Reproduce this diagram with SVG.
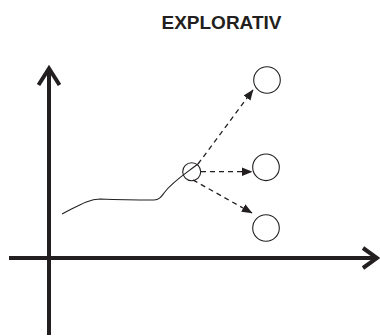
<svg xmlns="http://www.w3.org/2000/svg" width="380" height="336" viewBox="0 0 380 336">
<style>
.title{font-family:"Liberation Sans",Arial,sans-serif;font-weight:bold;font-size:19px;fill:#231f20}
.axis{stroke:#231f20;stroke-width:4;fill:none}
.circ{stroke:#231f20;stroke-width:1.1;fill:#fff}
.dash{stroke:#231f20;stroke-width:1.3;fill:none;stroke-dasharray:5,4}
.curve{stroke:#231f20;stroke-width:1.1;fill:none}
</style>
<defs>
<marker id="ah" markerUnits="userSpaceOnUse" markerWidth="11" markerHeight="11" viewBox="0 0 11 11" refX="10" refY="5.5" orient="auto">
<path d="M0,1.2 L10.5,5.5 L0,9.8 Z" fill="#231f20"/>
</marker>
</defs>
<rect width="380" height="336" fill="#fff"/>
<text class="title" x="221.5" y="29" text-anchor="middle">EXPLORATIV</text>
<g id="axes">
<line class="axis" x1="49" y1="69" x2="49" y2="335"/>
<polyline class="axis" points="38.5,85 49,68.5 59.5,85"/>
<line class="axis" x1="9" y1="258" x2="376" y2="258"/>
<polyline class="axis" points="363,248 377,258 363,268"/>
</g>
<g id="path">
<path class="curve" d="M62,214 C78,206 88,199 100,199 C125,200 140,200 154,200 C159,200 161,197 164,193 C172,182 185,174 198,164"/>
</g>
<g id="connectors">
<line class="dash" x1="198" y1="164" x2="253" y2="90" marker-end="url(#ah)"/>
<line class="dash" x1="201" y1="171.7" x2="252" y2="171.7" marker-end="url(#ah)"/>
<line class="dash" x1="193" y1="180" x2="252" y2="213" marker-end="url(#ah)"/>
</g>
<g id="node-start"><circle cx="191.7" cy="171.7" r="9" fill="none" stroke="#231f20" stroke-width="1.1"/></g>
<g id="node-top"><circle class="circ" cx="267" cy="80" r="13.3"/></g>
<g id="node-mid"><circle class="circ" cx="266" cy="167.3" r="13.3"/></g>
<g id="node-bottom"><circle class="circ" cx="266" cy="228" r="13.3"/></g>
</svg>
